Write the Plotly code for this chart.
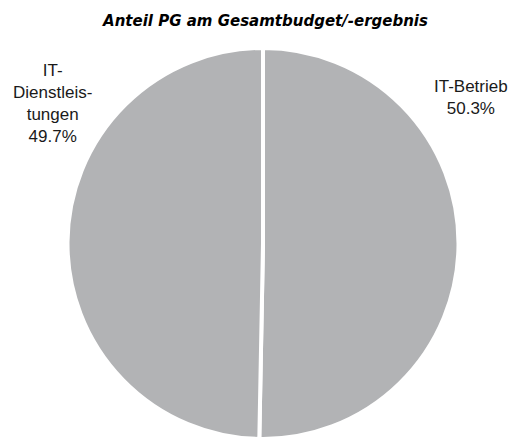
import plotly.graph_objects as go

# Budget shares by product group
categories = ["IT-Betrieb", "IT-Dienstleistungen"]
shares = [50.3, 49.7]
label_lines = [["IT-Betrieb"], ["IT-", "Dienstleis-", "tungen"]]

W, H = 516, 439
cx, cy, r = 263, 243.5, 195.5  # pie centre and radius in pixels

fig = go.Figure(
    go.Pie(
        labels=categories,
        values=shares,
        sort=False,
        direction="clockwise",
        rotation=0,
        textinfo="none",
        hoverinfo="label+percent",
        marker=dict(colors=["#b2b3b5", "#b2b3b5"], line=dict(color="white", width=4)),
        domain=dict(x=[(cx - r) / W, (cx + r) / W],
                    y=[max(0.0, 1 - (cy + r) / H), 1 - (cy - r) / H]),
        showlegend=False,
    )
)

# outside labels: name + share
label_pos = [(471, 97), (52, 103)]
for lines, val, (px, py) in zip(label_lines, shares, label_pos):
    fig.add_annotation(
        x=px / W, y=1 - py / H, xref="paper", yref="paper",
        text="<br>".join(lines + [f"{val:.1f}%"]),
        showarrow=False, align="center", xanchor="center", yanchor="middle",
        font=dict(family="Liberation Sans, Arial, sans-serif", size=17, color="#1a1a1a"),
    )

fig.update_layout(
    width=W, height=H,
    margin=dict(l=0, r=0, t=0, b=0),
    paper_bgcolor="white", plot_bgcolor="white",
    title=dict(
        text="<b><i>Anteil PG am Gesamtbudget/-ergebnis</i></b>",
        x=265.5 / W, xanchor="center", y=1 - 20.5 / H, yanchor="middle",
        font=dict(family="DejaVu Sans, sans-serif", size=15, color="#000000"),
    ),
)

fig.write_html("out.html")
